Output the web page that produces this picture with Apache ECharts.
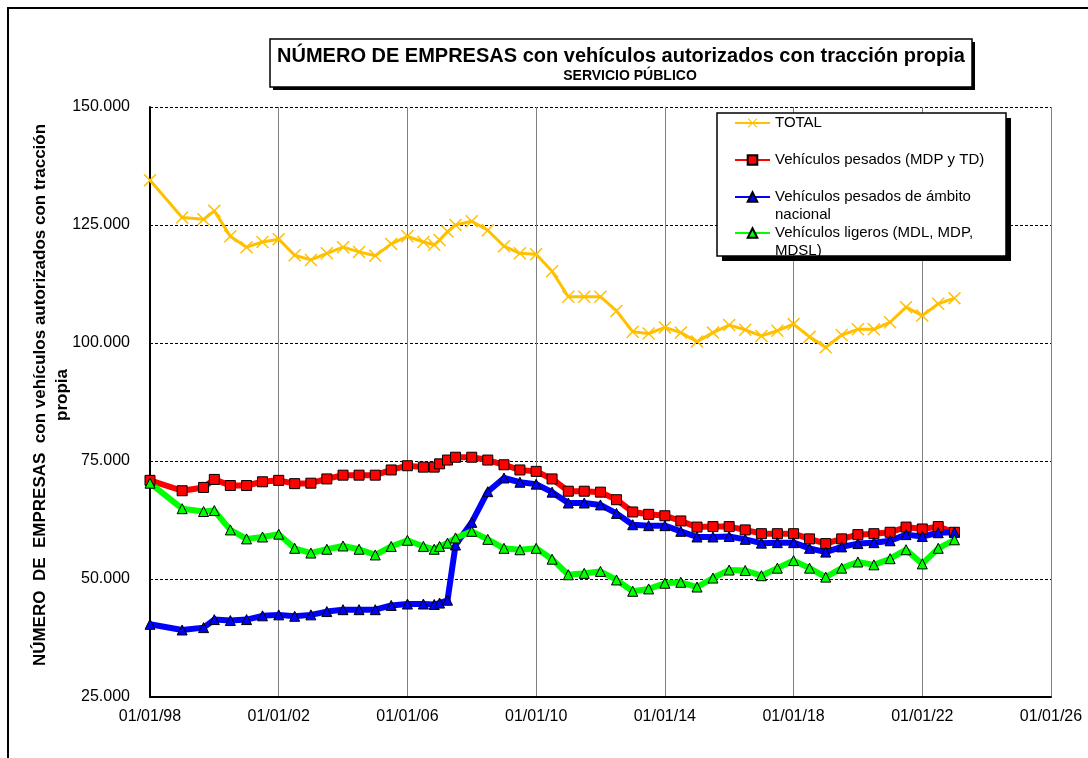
<!DOCTYPE html>
<html>
<head>
<meta charset="utf-8">
<script src="https://cdn.jsdelivr.net/npm/echarts@6/dist/echarts.min.js"></script>
<style>
  html, body { margin: 0; padding: 0; background: #ffffff; }
  #chart { width: 1088px; height: 758px; }
</style>
</head>
<body>
<div id="chart"></div>
<script>
// fechas de cada observación
var dates = ['1998-01-01','1999-01-01','1999-09-01','2000-01-01','2000-07-01','2001-01-01','2001-07-01',
  '2002-01-01','2002-07-01','2003-01-01','2003-07-01','2004-01-01','2004-07-01','2005-01-01','2005-07-01',
  '2006-01-01','2006-07-01','2006-11-01','2007-01-01','2007-04-01','2007-07-01','2008-01-01','2008-07-01',
  '2009-01-01','2009-07-01','2010-01-01','2010-07-01','2011-01-01','2011-07-01','2012-01-01','2012-07-01',
  '2013-01-01','2013-07-01','2014-01-01','2014-07-01','2015-01-01','2015-07-01','2016-01-01','2016-07-01',
  '2017-01-01','2017-07-01','2018-01-01','2018-07-01','2019-01-01','2019-07-01','2020-01-01','2020-07-01',
  '2021-01-01','2021-07-01','2022-01-01','2022-07-01','2023-01-01']

var total = [134500,126600,126200,128000,122600,120300,121400,122000,118600,117600,119000,120300,119300,
  118500,121000,122600,121400,120800,121800,123600,125000,125800,123900,120500,119000,118800,115200,
  109800,109800,109800,106800,102400,102000,103300,102200,100300,102200,103800,102800,101500,102600,
  104000,101300,99100,101700,102900,102900,104400,107600,105800,108300,109500]

var pesados = [70900,68700,69400,71100,69800,69800,70600,70900,70200,70300,71200,72000,72000,72000,
  73100,74000,73700,73700,74400,75200,75800,75800,75200,74200,73100,72800,71200,68600,68600,68400,
  66800,64200,63700,63400,62300,61000,61100,61100,60400,59600,59600,59600,58500,57500,58500,59400,
  59600,59900,61000,60600,61100,59900]

var nacional = [40400,39200,39700,41400,41200,41400,42200,42400,42100,42400,43100,43500,43500,43500,
  44400,44700,44700,44600,44900,45500,57200,62000,68500,71400,70500,70100,68400,66100,66100,65700,
  63900,61500,61300,61300,60100,58900,58900,59000,58400,57600,57700,57700,56500,55700,56800,57500,
  57700,58100,59400,59000,59800,59900]

var ligeros = [70300,64900,64300,64500,60400,58500,58900,59500,56500,55500,56300,57000,56300,55100,
  56900,58200,56900,56300,56900,57600,58700,60100,58400,56500,56200,56500,54200,50900,51200,51600,
  49800,47400,47900,49100,49300,48300,50200,51900,51800,50700,52300,53900,52300,50400,52300,53600,
  53000,54300,56200,53200,56500,58300]

var seriesNames = ['TOTAL', 'Vehículos pesados (MDP y TD)', 'Vehículos pesados de ámbito\nnacional', 'Vehículos ligeros (MDL, MDP,\nMDSL)']

var FONT = "'Liberation Sans', Arial, sans-serif"
var DAY = 86400000
var X_MIN = Date.UTC(1998, 0, 1)
var X_MAX = Date.UTC(2026, 0, 1)

function ts(s) {
  var p = s.split('-')
  return Date.UTC(+p[0], +p[1] - 1, +p[2])
}
function pairs(vals) {
  return dates.map(function (d, i) { return [ts(d), vals[i]] })
}
function pad(n) { return (n < 10 ? '0' : '') + n }
function fmtDate(v) {
  var d = new Date(v)
  return pad(d.getUTCDate()) + '/' + pad(d.getUTCMonth() + 1) + '/' + pad(d.getUTCFullYear() % 100)
}
function fmtNum(v) {
  return String(v).replace(/\B(?=(\d{3})+(?!\d))/g, '.')
}

var crossPath = 'path://M0,0.8L0.8,0L5,4.2L9.2,0L10,0.8L5.8,5L10,9.2L9.2,10L5,5.8L0.8,10L0,9.2L4.2,5Z'

function legendAt(name, top, twoLines) {
  return {
    data: [name],
    orient: 'vertical',
    left: 734,
    top: top,
    padding: 0,
    itemGap: 0,
    itemWidth: 35,
    itemHeight: 12,
    z: 6,
    // con dos líneas, la primera queda a la altura del icono
    formatter: twoLines ? function (n) { return '\n' + n } : '{name}',
    textStyle: {
      fontFamily: FONT,
      fontSize: 15,
      color: '#000',
      lineHeight: 18
    }
  }
}

var chart = echarts.init(document.getElementById('chart'))
var option = {
  animation: false,
  backgroundColor: '#ffffff',
  textStyle: { fontFamily: FONT },
  grid: { left: 150, right: 37, top: 107, bottom: 61, containLabel: false },
  legend: [
    legendAt(seriesNames[0], 114, false),
    legendAt(seriesNames[1], 151, false),
    legendAt(seriesNames[2], 170, true),
    legendAt(seriesNames[3], 206, true)
  ],
  xAxis: {
    type: 'value',
    min: X_MIN,
    max: X_MAX,
    interval: 1461 * DAY,
    axisLine: { show: true, lineStyle: { color: '#000', width: 2 } },
    axisTick: { show: false },
    splitLine: { show: true, lineStyle: { color: '#808080', width: 1 } },
    axisLabel: { fontSize: 16, color: '#000', margin: 12, fontFamily: FONT, formatter: fmtDate }
  },
  yAxis: {
    type: 'value',
    min: 25000,
    max: 150000,
    interval: 25000,
    axisLine: { show: true, lineStyle: { color: '#000', width: 2 } },
    axisTick: { show: false },
    splitLine: { show: true, lineStyle: { color: '#000', width: 1, type: [3, 2] } },
    axisLabel: { fontSize: 16, color: '#000', margin: 20, fontFamily: FONT, formatter: fmtNum }
  },
  graphic: [
    { type: 'rect', shape: { x: 8, y: 8, width: 1100, height: 800 }, style: { fill: 'none', stroke: '#000', lineWidth: 2 }, z: 1 },
    // caja del título
    { type: 'rect', shape: { x: 273, y: 42, width: 702, height: 48 }, style: { fill: '#000' }, z: 5 },
    { type: 'rect', shape: { x: 270, y: 39, width: 702, height: 48 }, style: { fill: '#fff', stroke: '#000', lineWidth: 1.5 }, z: 5 },
    { type: 'text', x: 621, y: 56, z: 6, style: { text: 'NÚMERO DE EMPRESAS con vehículos autorizados con tracción propia', font: 'bold 20px ' + FONT, fill: '#000', textAlign: 'center', textVerticalAlign: 'middle' } },
    { type: 'text', x: 630, y: 76, z: 6, style: { text: 'SERVICIO PÚBLICO', font: 'bold 14px ' + FONT, fill: '#000', textAlign: 'center', textVerticalAlign: 'middle' } },
    // caja de la leyenda
    { type: 'rect', shape: { x: 722, y: 118, width: 289, height: 143 }, style: { fill: '#000' }, z: 4 },
    { type: 'rect', shape: { x: 717, y: 113, width: 289, height: 143 }, style: { fill: '#fff', stroke: '#000', lineWidth: 1.5 }, z: 4 },
    // título del eje Y
    { type: 'text', x: 51, y: 395, rotation: Math.PI / 2, z: 6, style: { text: 'NÚMERO  DE  EMPRESAS  con vehículos autorizados con tracción\npropia', font: 'bold 17px ' + FONT, fill: '#000', textAlign: 'center', textVerticalAlign: 'middle', lineHeight: 22 } }
  ],
  series: [
    {
      name: seriesNames[0],
      type: 'line',
      data: pairs(total),
      symbol: crossPath,
      symbolSize: 13,
      lineStyle: { color: '#FFC000', width: 3 },
      itemStyle: { color: '#FFC000' }
    },
    {
      name: seriesNames[1],
      type: 'line',
      data: pairs(pesados),
      symbol: 'rect',
      symbolSize: 10,
      lineStyle: { color: '#FF0000', width: 6 },
      itemStyle: { color: '#FF0000', borderColor: '#000', borderWidth: 1 }
    },
    {
      name: seriesNames[2],
      type: 'line',
      data: pairs(nacional),
      symbol: 'triangle',
      symbolSize: 10,
      lineStyle: { color: '#0000FF', width: 6 },
      itemStyle: { color: '#0000FF', borderColor: '#000', borderWidth: 1 }
    },
    {
      name: seriesNames[3],
      type: 'line',
      data: pairs(ligeros),
      symbol: 'triangle',
      symbolSize: 10,
      lineStyle: { color: '#00FF00', width: 6 },
      itemStyle: { color: '#00FF00', borderColor: '#000', borderWidth: 1 }
    }
  ]
}
chart.setOption(option)
</script>
</body>
</html>
